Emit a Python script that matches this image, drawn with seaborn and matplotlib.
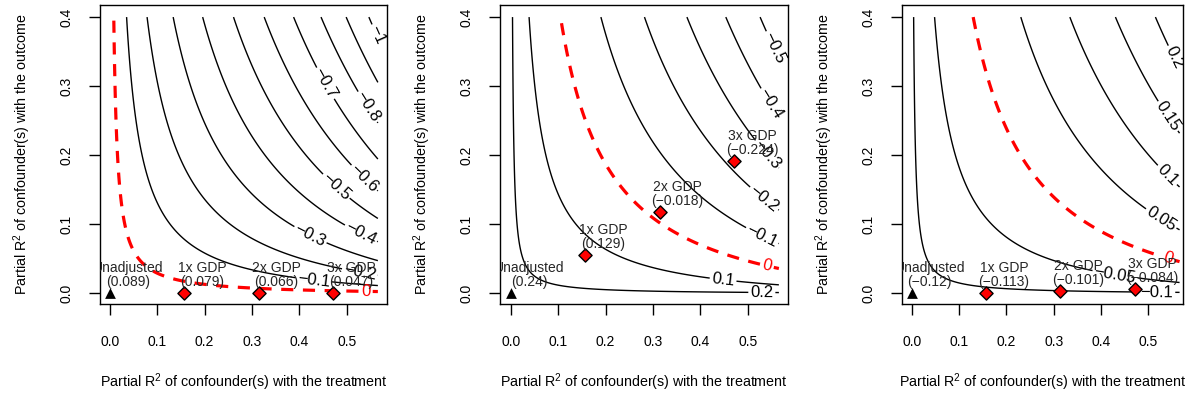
import numpy as np
import matplotlib
matplotlib.use("Agg")
import matplotlib.pyplot as plt
from matplotlib.ticker import FormatStrFormatter
import seaborn as sns
import pandas as pd

# ---------------- data ----------------
bound_labels = ["1x GDP", "2x GDP", "3x GDP"]
bound_r2dz = [0.157, 0.314, 0.471]
unadj_label = "Unadjusted"

# panel 1
p1_estimate = 0.089
p1_se_sqrt_dof = 1.567
p1_bound_r2yz = [0.0002, 0.0005, 0.0008]
p1_bound_values = ["0.079", "0.066", "0.047"]
p1_unadj_value = "0.089"
p1_levels = [-1.0, -0.9, -0.8, -0.7, -0.6, -0.5, -0.4, -0.3, -0.2, -0.1]

# panel 2
p2_estimate = 0.24
p2_se_sqrt_dof = 1.11
p2_bound_r2yz = [0.055, 0.117, 0.191]
p2_bound_values = ["0.129", "\u22120.018", "\u22120.224"]
p2_unadj_value = "0.24"
p2_levels = [-0.5, -0.4, -0.3, -0.2, -0.1, 0.1, 0.2]

# panel 3
p3_estimate = -0.12
p3_se_sqrt_dof = 0.491
p3_bound_r2yz = [0.001, 0.003, 0.006]
p3_bound_values = ["\u22120.113", "\u22120.101", "\u22120.084"]
p3_unadj_value = "\u22120.12"
p3_levels = [-0.1, -0.05, 0.05, 0.1, 0.15, 0.2]

grid_max_x = 0.566
grid_max_y = 0.4

# ---------------- styling / layout ----------------
sns.set_theme(style="white")
plt.rcParams["font.family"] = ["Liberation Sans", "DejaVu Sans"]
plt.rcParams["mathtext.fontset"] = "custom"
plt.rcParams["mathtext.rm"] = "Liberation Sans"
plt.rcParams["mathtext.it"] = "Liberation Sans:italic"
plt.rcParams["axes.unicode_minus"] = True
plt.rcParams["contour.negative_linestyle"] = "solid"

W, H = 1193, 401
fig = plt.figure(figsize=(W / 100, H / 100), dpi=100)
fig.patch.set_facecolor("white")

box_top, box_bottom = 5, 304.3
boxes = [(100, 387.3), (500, 788.3), (901.7, 1183.3)]
xlims = [(-0.0211, 0.5859), (-0.0232, 0.5859), (-0.0211, 0.5739)]
ylim = (-0.016, 0.4175)

label_pos = [
    {-1.0: (0.55, 0.37), -0.8: (0.53, 0.264), -0.7: (0.444, 0.30), -0.6: (0.528, 0.161),
     -0.5: (0.47, 0.149), -0.4: (0.528, 0.084), -0.3: (0.42, 0.08), -0.2: (0.528, 0.031),
     -0.1: (0.43, 0.019), 0.0: (0.54, 0.002)},
    {-0.5: (0.54, 0.351), -0.4: (0.537, 0.27), -0.3: (0.533, 0.197), -0.2: (0.526, 0.13),
     -0.1: (0.526, 0.077), 0.0: (0.54, 0.038), 0.1: (0.448, 0.019), 0.2: (0.53, 0.001)},
    {0.2: (0.542, 0.337), 0.15: (0.532, 0.2525), 0.1: (0.535, 0.168), 0.05: (0.525, 0.106),
     0.0: (0.542, 0.053), -0.05: (0.43, 0.029), -0.1: (0.518, 0.004)},
]

panels = [
    (p1_estimate, p1_se_sqrt_dof, p1_levels, p1_bound_r2yz, p1_bound_values, p1_unadj_value),
    (p2_estimate, p2_se_sqrt_dof, p2_levels, p2_bound_r2yz, p2_bound_values, p2_unadj_value),
    (p3_estimate, p3_se_sqrt_dof, p3_levels, p3_bound_r2yz, p3_bound_values, p3_unadj_value),
]


def fmt(v):
    return ("%g" % v).replace("-", "\u2212")


gx = np.linspace(0, grid_max_x, 700)
gy = np.linspace(0, grid_max_y, 700)
GX, GY = np.meshgrid(gx, gy)

for i, (est, k, levels, b_y, b_vals, u_val) in enumerate(panels):
    l, r = boxes[i]
    ax = fig.add_axes([l / W, (H - box_bottom) / H, (r - l) / W, (box_bottom - box_top) / H])
    ax.set_facecolor("white")

    bias = k * np.sqrt(GY * GX / (1 - GX))
    Z = est - np.sign(est) * bias

    for lev in levels:
        cs = ax.contour(GX, GY, Z, levels=[lev], colors="black", linewidths=1.0,
                        linestyles="solid")
        if lev in label_pos[i]:
            ax.clabel(cs, manual=[label_pos[i][lev]], fmt=fmt, fontsize=12,
                      inline=True, inline_spacing=3)
    cs0 = ax.contour(GX, GY, Z, levels=[0.0], colors="red", linewidths=2.3,
                     linestyles=[(0, (3.8, 3.0))])
    ax.clabel(cs0, manual=[label_pos[i][0.0]], fmt=fmt, fontsize=12,
              inline=True, inline_spacing=3)

    # points
    sns.scatterplot(x=[0.0], y=[0.0], marker="^", color="black", s=60,
                    edgecolor="black", linewidth=0, ax=ax, zorder=5, clip_on=False)
    df = pd.DataFrame({"r2dz": bound_r2dz, "r2yz": b_y})
    sns.scatterplot(data=df, x="r2dz", y="r2yz", marker="D", color="red", s=45,
                    edgecolor="black", linewidth=1.0, ax=ax, zorder=5, clip_on=False)

    t = ax.annotate(f"{unadj_label}\n({u_val})", (0.0, 0.0), xytext=(13, 13),
                    textcoords="offset points", ha="center", va="center",
                    fontsize=10, linespacing=1.0, zorder=6)
    t.set_clip_on(True)
    t.set_clip_box(ax.bbox)
    for bx, by, bl, bv in zip(bound_r2dz, b_y, bound_labels, b_vals):
        t = ax.annotate(f"{bl}\n({bv})", (bx, by), xytext=(13, 13),
                        textcoords="offset points", ha="center", va="center",
                        fontsize=10, linespacing=1.0, zorder=6)
        t.set_clip_on(True)
        t.set_clip_box(ax.bbox)

    ax.set_xlim(*xlims[i])
    ax.set_ylim(*ylim)
    ax.set_xticks([0.0, 0.1, 0.2, 0.3, 0.4, 0.5])
    ax.set_yticks([0.0, 0.1, 0.2, 0.3, 0.4])
    ax.xaxis.set_major_formatter(FormatStrFormatter("%.1f"))
    ax.yaxis.set_major_formatter(FormatStrFormatter("%.1f"))
    ax.tick_params(axis="both", direction="out", length=8, width=1.0, color="black",
                   labelsize=10, labelcolor="black", bottom=True, left=True)
    ax.tick_params(axis="x", pad=14)
    ax.tick_params(axis="y", pad=11)
    for lab in ax.get_yticklabels():
        lab.set_rotation(90)
        lab.set_va("center")
    for sp in ax.spines.values():
        sp.set_visible(True)
        sp.set_color("black")
        sp.set_linewidth(1.0)
    ax.grid(False)

    ax.set_xlabel("Partial R$^2$ of confounder(s) with the treatment", fontsize=10.3,
                  color="black", labelpad=16)
    ax.set_ylabel("Partial R$^2$ of confounder(s) with the outcome", fontsize=10.3,
                  color="black", labelpad=19)

fig.savefig("out.png", dpi=100, facecolor="white")
